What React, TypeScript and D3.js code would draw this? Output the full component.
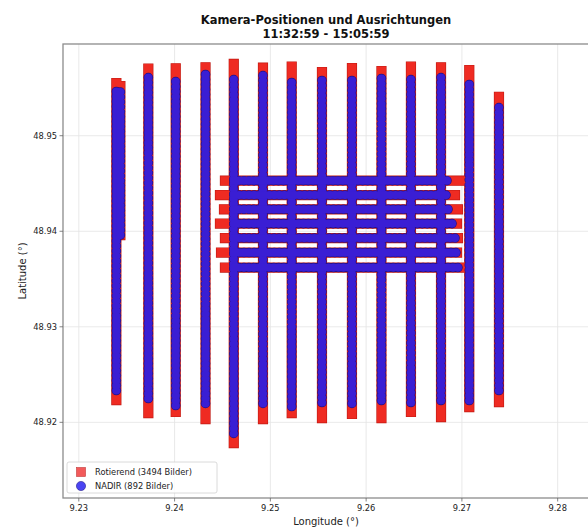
import React from 'react'
import * as d3 from 'd3'

// flight lines (north-south), longitude of each strip
const stripLon = [9.23392, 9.23434, 9.23726, 9.24012, 9.24323, 9.24618, 9.24923, 9.25223, 9.25539, 9.25852, 9.2616, 9.26468, 9.26782, 9.27077, 9.27387]
// Rotierend: first / last marker latitude per strip
const redNorth = [48.95552, 48.9552, 48.95703, 48.95706, 48.95716, 48.95751, 48.95712, 48.95724, 48.95667, 48.95709, 48.95677, 48.95724, 48.95716, 48.95688, 48.95408]
const redSouth = [48.92233, 48.9396, 48.92097, 48.92108, 48.92034, 48.91783, 48.92034, 48.92097, 48.92045, 48.92087, 48.92045, 48.92108, 48.92055, 48.9216, 48.92212]
// NADIR: first / last marker latitude per strip
const blueNorth = [48.95463, 48.95457, 48.95609, 48.95567, 48.95641, 48.95588, 48.9563, 48.95557, 48.95578, 48.95578, 48.95599, 48.95588, 48.95609, 48.95536, 48.95295]
const blueSouth = [48.92333, 48.9396, 48.92249, 48.92176, 48.92197, 48.91883, 48.92197, 48.92165, 48.92207, 48.92197, 48.92228, 48.92207, 48.92228, 48.92228, 48.92333]

// cross lines (west-east) in the centre block
const rowLat = [48.94529, 48.94379, 48.9423, 48.9408, 48.93929, 48.93777, 48.9362]
const rowRedWest = [9.24526, 9.24474, 9.24516, 9.24474, 9.24526, 9.24485, 9.24526]
const rowRedEast = [9.27001, 9.26928, 9.26959, 9.26949, 9.26959, 9.26949, 9.27064]
const rowBlueWest = [9.2462, 9.2462, 9.2462, 9.2462, 9.2462, 9.2462, 9.2462]
const rowBlueEast = [9.26844, 9.26834, 9.26855, 9.26897, 9.26928, 9.26938, 9.26959]

const xTicks = [9.23, 9.24, 9.25, 9.26, 9.27, 9.28]
const yTicks = [48.92, 48.93, 48.94, 48.95]
const xLim = [9.22835, 9.28327]
const yLim = [48.91208, 48.9596]

const legendItems = ['Rotierend (3494 Bilder)', 'NADIR (892 Bilder)']

const W = 588
const H = 527
const box = { left: 63, right: 589, top: 44, bottom: 498 }
const font = 'DejaVu Sans, sans-serif'

const RED = '#ef2b22'
const RED_EDGE = '#c01a12'
const BLUE = '#3a1ed4'
const BLUE_EDGE = '#24117e'

type Seg = { x1: number, y1: number, x2: number, y2: number }

// dots spaced evenly so first and last marker sit on the ends
function dots(s: Seg, spacing: number) {
	const len = Math.hypot(s.x2 - s.x1, s.y2 - s.y1)
	const n = Math.max(1, Math.round(len / spacing))
	return `0 ${(len / n) * 0.9999}`
}

export default function App() {
	const x = d3.scaleLinear().domain(xLim).range([box.left, box.right])
	const y = d3.scaleLinear().domain(yLim).range([box.bottom, box.top])

	const redSegs: Seg[] = []
	const blueSegs: Seg[] = []
	stripLon.forEach((lon, i) => {
		redSegs.push({ x1: x(lon), y1: y(redNorth[i]), x2: x(lon), y2: y(redSouth[i]) })
		blueSegs.push({ x1: x(lon), y1: y(blueNorth[i]), x2: x(lon), y2: y(blueSouth[i]) })
	})
	rowLat.forEach((lat, i) => {
		redSegs.push({ x1: x(rowRedWest[i]), y1: y(lat), x2: x(rowRedEast[i]), y2: y(lat) })
		blueSegs.push({ x1: x(rowBlueWest[i]), y1: y(lat), x2: x(rowBlueEast[i]), y2: y(lat) })
	})

	const line = (s: Seg, key: string, props: any) =>
		<line key={key} x1={s.x1} y1={s.y1} x2={s.x2} y2={s.y2} fill="none" {...props} />

	return (
		<div style={{ position: 'fixed', left: 0, top: 0 }}>
			<svg width={W} height={H} style={{ display: 'block', background: '#fff' }}>
				<defs>
					<clipPath id="plot">
						<rect x={box.left} y={box.top} width={box.right - box.left} height={box.bottom - box.top} />
					</clipPath>
				</defs>

				{/* grid */}
				<g stroke="#e3e3e3" strokeWidth={0.8}>
					{xTicks.map(t => <line key={'gx' + t} x1={x(t)} x2={x(t)} y1={box.top} y2={box.bottom} />)}
					{yTicks.map(t => <line key={'gy' + t} y1={y(t)} y2={y(t)} x1={box.left} x2={box.right} />)}
				</g>

				<g clipPath="url(#plot)">
					{/* Rotierend squares */}
					{redSegs.map((s, i) => line(s, 're' + i, { stroke: RED_EDGE, strokeWidth: 10.2, strokeLinecap: 'square' }))}
					{redSegs.map((s, i) => line(s, 'rf' + i, { stroke: RED, strokeWidth: 9, strokeLinecap: 'square' }))}
					{/* NADIR circles */}
					{blueSegs.map((s, i) => line(s, 'be' + i, { stroke: BLUE_EDGE, strokeWidth: 9.6, strokeLinecap: 'round', strokeDasharray: dots(s, 5) }))}
					{blueSegs.map((s, i) => line(s, 'bf' + i, { stroke: BLUE, strokeWidth: 8.2, strokeLinecap: 'round', strokeDasharray: dots(s, 5) }))}
				</g>

				{/* frame */}
				<rect x={box.left} y={box.top} width={box.right - box.left} height={box.bottom - box.top}
					fill="none" stroke="#8c8c8c" strokeWidth={1.3} />

				{/* ticks */}
				<g fontFamily={font} fontSize={8.3} fill="#222">
					{xTicks.map(t => (
						<g key={'tx' + t}>
							<line x1={x(t)} x2={x(t)} y1={box.bottom} y2={box.bottom + 3.5} stroke="#666" strokeWidth={0.8} />
							<text x={x(t)} y={box.bottom + 13} textAnchor="middle">{d3.format('.2f')(t)}</text>
						</g>
					))}
					{yTicks.map(t => (
						<g key={'ty' + t}>
							<line x1={box.left - 3.5} x2={box.left} y1={y(t)} y2={y(t)} stroke="#666" strokeWidth={0.8} />
							<text x={box.left - 6} y={y(t) + 3} textAnchor="end">{d3.format('.2f')(t)}</text>
						</g>
					))}
				</g>

				{/* axis labels */}
				<text x={(box.left + box.right) / 2} y={525} textAnchor="middle" fontFamily={font} fontSize={10} fill="#222">Longitude (°)</text>
				<text transform={`translate(26,${(box.top + box.bottom) / 2}) rotate(-90)`} textAnchor="middle" fontFamily={font} fontSize={10} fill="#222">Latitude (°)</text>

				{/* title */}
				<text x={(box.left + box.right) / 2} textAnchor="middle" fontFamily={font} fontSize={11.5} fontWeight="bold" fill="#111">
					<tspan x={(box.left + box.right) / 2} y={24}>Kamera-Positionen und Ausrichtungen</tspan>
					<tspan x={(box.left + box.right) / 2} y={38}>11:32:59 - 15:05:59</tspan>
				</text>

				{/* legend */}
				<g fontFamily={font} fontSize={8.3} fill="#222">
					<rect x={67} y={462} width={150} height={31} rx={2} fill="#fff" fillOpacity={0.85} stroke="#d0d0d0" strokeWidth={0.8} />
					<rect x={76.5} y={467.5} width={9} height={9} fill="#f25a5a" stroke="#c23a3a" strokeWidth={0.6} />
					<circle cx={81} cy={486} r={4.6} fill="#4a44f2" stroke="#2a2290" strokeWidth={0.6} />
					<text x={95} y={475}>{legendItems[0]}</text>
					<text x={95} y={489}>{legendItems[1]}</text>
				</g>
			</svg>
		</div>
	)
}
